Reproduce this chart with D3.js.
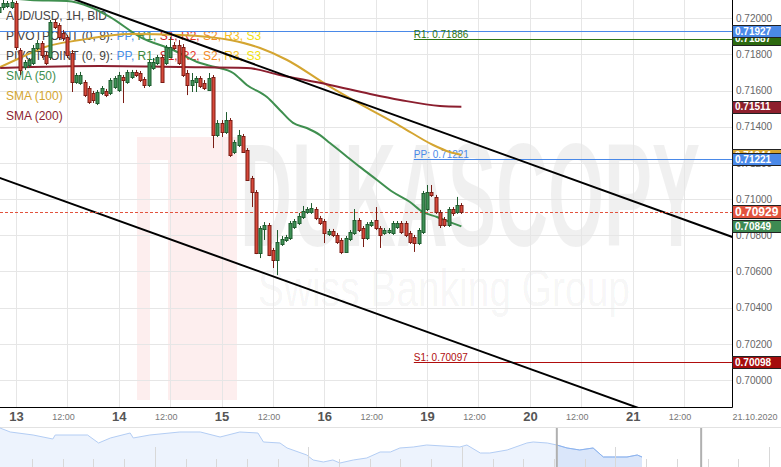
<!DOCTYPE html>
<html>
<head>
<meta charset="utf-8">
<script src="https://cdn.jsdelivr.net/npm/d3@7/dist/d3.min.js"></script>
<style>
html,body{margin:0;padding:0;background:#fff;}
svg{display:block;font-family:"Liberation Sans",Arial,Helvetica,sans-serif;}
</style>
</head>
<body>
<svg id="chart" width="781" height="467"></svg>
<script>
// ================= DATA =================
const symbolTitle = "AUD/USD, 1H, BID";
const firstHour = -4; // hourly bars, hour 0 = 13 Oct 00:00 (weekend compressed)
const opens = [0.72034,0.72062,0.72067,0.72062,0.72084,0.71824,0.71730,0.71741,0.71752,0.71835,
0.71863,0.71797,0.71786,0.71979,0.71962,0.71918,0.71896,0.71808,0.71647,0.71642,
0.71647,0.71614,0.71587,0.71531,0.71587,0.71598,0.71587,0.71620,0.71603,0.71675,
0.71647,0.71675,0.71703,0.71697,0.71664,0.71631,0.71725,0.71752,0.71786,0.71752,
0.71786,0.71852,0.71852,0.71841,0.71697,0.71631,0.71647,0.71669,0.71642,0.71603,
0.71675,0.71354,0.71421,0.71371,0.71437,0.71260,0.71299,0.71349,0.71271,0.71117,
0.71039,0.70702,0.70835,0.70857,0.70719,0.70663,0.70752,0.70774,0.70785,0.70846,
0.70868,0.70901,0.70929,0.70929,0.70945,0.70895,0.70879,0.70807,0.70824,0.70802,
0.70774,0.70708,0.70779,0.70813,0.70884,0.70840,0.70785,0.70857,0.70884,0.70840,
0.70813,0.70818,0.70813,0.70846,0.70868,0.70868,0.70813,0.70790,0.70757,0.70818,
0.70945,0.71039,0.71012,0.70929,0.70890,0.70857,0.70945,0.70929,0.70967];
const highs = [0.72073,0.72101,0.72095,0.72101,0.72095,0.71835,0.71769,0.71780,0.71852,0.71879,
0.71874,0.71813,0.71990,0.71996,0.71973,0.71935,0.71907,0.71824,0.71697,0.71703,
0.71658,0.71625,0.71598,0.71603,0.71625,0.71609,0.71669,0.71680,0.71703,0.71686,
0.71714,0.71714,0.71714,0.71708,0.71675,0.71769,0.71780,0.71797,0.71797,0.71852,
0.71896,0.71868,0.71879,0.71857,0.71714,0.71697,0.71680,0.71680,0.71658,0.71697,
0.71686,0.71437,0.71437,0.71481,0.71448,0.71327,0.71382,0.71360,0.71282,0.71128,
0.71050,0.70851,0.70873,0.70868,0.70730,0.70829,0.70796,0.70802,0.70879,0.70890,
0.70923,0.70962,0.70956,0.70978,0.70956,0.70907,0.70890,0.70835,0.70835,0.70813,
0.70785,0.70796,0.70829,0.70945,0.70895,0.70851,0.70873,0.70884,0.70956,0.70851,
0.70840,0.70840,0.70879,0.70879,0.70879,0.70879,0.70824,0.70802,0.70840,0.71045,
0.71078,0.71078,0.71023,0.70940,0.70901,0.70956,0.70956,0.71012,0.70978];
const lows = [0.72018,0.72045,0.72056,0.72051,0.71824,0.71686,0.71714,0.71725,0.71741,0.71824,
0.71780,0.71741,0.71769,0.71940,0.71879,0.71874,0.71780,0.71592,0.71637,0.71631,
0.71564,0.71526,0.71531,0.71520,0.71575,0.71564,0.71575,0.71609,0.71592,0.71531,
0.71637,0.71664,0.71675,0.71647,0.71614,0.71620,0.71714,0.71741,0.71642,0.71741,
0.71780,0.71824,0.71741,0.71675,0.71575,0.71592,0.71592,0.71614,0.71603,0.71598,
0.71282,0.71343,0.71343,0.71360,0.71233,0.71249,0.71288,0.71255,0.71100,0.70956,
0.70696,0.70674,0.70774,0.70685,0.70619,0.70580,0.70741,0.70763,0.70774,0.70835,
0.70857,0.70890,0.70918,0.70918,0.70884,0.70857,0.70757,0.70796,0.70790,0.70752,
0.70696,0.70702,0.70768,0.70802,0.70818,0.70735,0.70774,0.70846,0.70829,0.70730,
0.70802,0.70807,0.70802,0.70835,0.70807,0.70790,0.70752,0.70708,0.70746,0.70807,
0.70934,0.71012,0.70918,0.70840,0.70846,0.70846,0.70907,0.70918,0.70918];
const closes = [0.72062,0.72084,0.72084,0.72090,0.71841,0.71714,0.71758,0.71769,0.71835,0.71863,
0.71797,0.71752,0.71979,0.71951,0.71896,0.71891,0.71797,0.71647,0.71686,0.71686,
0.71575,0.71537,0.71548,0.71592,0.71614,0.71575,0.71658,0.71669,0.71686,0.71658,
0.71703,0.71703,0.71686,0.71658,0.71631,0.71758,0.71758,0.71786,0.71647,0.71841,
0.71841,0.71835,0.71752,0.71686,0.71631,0.71658,0.71669,0.71625,0.71614,0.71669,
0.71354,0.71421,0.71371,0.71437,0.71244,0.71316,0.71354,0.71260,0.71106,0.71039,
0.70702,0.70840,0.70857,0.70691,0.70663,0.70763,0.70779,0.70790,0.70868,0.70879,
0.70907,0.70934,0.70945,0.70951,0.70895,0.70868,0.70813,0.70824,0.70802,0.70763,
0.70708,0.70785,0.70818,0.70884,0.70829,0.70785,0.70862,0.70873,0.70840,0.70802,
0.70829,0.70829,0.70868,0.70868,0.70818,0.70802,0.70763,0.70757,0.70829,0.71034,
0.71039,0.71023,0.70929,0.70857,0.70857,0.70945,0.70923,0.70967,0.70929];

const tickHours  = [0,12,24,36,48,60,72,84,96,108,120,132,144,156];
const tickLabels = ["13","12:00","14","12:00","15","12:00","16","12:00","19","12:00","20","12:00","21","12:00"];
const dateLabel = "21.10.2020";
const priceTicks = [0.700,0.702,0.704,0.706,0.708,0.710,0.712,0.714,0.716,0.718,0.720];

const sma50Hours  = [-3.7,3.3,11.9,17.3,21.9,29,36.7,43,46.5,50.7,53.9,58.6,61.6,64.7,67.9,71,73.3,76.8,80.3,84.3,88,92,95,98.3,101.3,104];
const sma50Values = [0.72117,0.72101,0.72095,0.72062,0.72007,0.71896,0.71824,0.71752,0.71730,0.71697,0.71631,0.71564,0.71493,0.71421,0.71393,0.71354,0.71310,0.71244,0.71178,0.71106,0.71039,0.70984,0.70929,0.70901,0.70873,0.70849];
const sma100Hours  = [-3.7,0.9,6.8,14.9,26.6,38.3,50,57,63.3,72.6,80.3,89.7,97.4,101.3,104];
const sma100Values = [0.71730,0.71780,0.71841,0.71879,0.71913,0.71907,0.71879,0.71835,0.71769,0.71631,0.71526,0.71404,0.71299,0.71260,0.71244];
const sma200Hours  = [-3.7,19.6,38.3,53.9,61.6,73.3,82.7,89.7,99,104];
const sma200Values = [0.71725,0.71736,0.71730,0.71725,0.71686,0.71631,0.71581,0.71548,0.71515,0.71511];

const pivotNames  = ["R1","PP","S1"];
const pivotValues = [0.71886,0.71221,0.70097];
const pivotStartHour = 92.9;
const wideLevelValue = 0.71927;

const trendUpperHours = [0,172], trendUpperValues = [0.72221,0.70750];
const trendLowerHours = [-4,172], trendLowerValues = [0.71119,0.69618];

const legendPivotItems = ["PP","R1","S1","R2","S2","R3","S3"];
const legendPivotTitles = ["PIVOTPOINT (0, 8): ","PIVOTPOINT (0, 9): "];
const smaNames = ["SMA (50)","SMA (100)","SMA (200)"];

const axisLabelValues = [0.71887,0.71927,0.71511,0.71244,0.71221,0.70929,0.70849,0.70098];

const navHours  = [-710,-697,-668,-643,-640,-599,-585,-570,-545,-541,-520,-482,-456,-431,-406,-383,-376,-355,-346,-321,-313,-300,-288,-279,-262,-245,-228,-215,-203,-186,-169,-127,-118,-101,-89,-67,-42,-34,-16,-4,9,25,42,55,67,85,98,104];
const navValues = [0.71558,0.71388,0.71260,0.71090,0.71260,0.71260,0.70920,0.71133,0.71345,0.71133,0.71260,0.71388,0.71388,0.71175,0.71388,0.71345,0.70963,0.70920,0.70708,0.70410,0.70198,0.70113,0.70198,0.70070,0.70198,0.70283,0.70538,0.70538,0.70708,0.70750,0.70835,0.70750,0.70835,0.70495,0.70495,0.70623,0.70920,0.70963,0.70920,0.70835,0.70708,0.70623,0.70708,0.70325,0.70325,0.70325,0.70410,0.70325];
const navWindow = [-4,179];

// ================= STYLE =================
const C = {
  grid:"#e6e6e6", text:"#444", axisText:"#666",
  up:"#3f9156", upLine:"#1f5c2f", down:"#d7483a", downLine:"#7a1c14",
  sma50:"#3f8f4f", sma100:"#d4a531", sma200:"#8b1e2e",
  blue:"#4a89e8", r1:"#2d7410", s1:"#b00d0d", last:"#e2533e"
};
const pivotColors = {R1:C.r1, PP:C.blue, S1:C.s1};
const legendPivotColors = ["#4a8fe7","#3c8a3c","#cc1a1a","#e5372a","#f28c28","#f6c026","#f0e010"];
const smaColors = [C.sma50, C.sma100, C.sma200];
const axisLabelColors = ["#2d6a10","#4a89e8","#8e1f2d","#d4a531","#4a89e8","#e2533e","#3e8a52","#a50d0d"];

const W=781, H=467, PW=732, PH=407;
const svg = d3.select("#chart");

const x = d3.scaleLinear().domain([-3.74,167.2]).range([0,PW]);
const y = d3.scaleLinear().domain([0.72,0.70]).range([18.2,380.0]);

svg.append("defs").append("clipPath").attr("id","plotClip")
  .append("rect").attr("x",0).attr("y",0).attr("width",PW).attr("height",PH);

// ---- watermark ----
const wm = svg.append("g").attr("clip-path","url(#plotClip)");
wm.append("rect").attr("x",137).attr("y",137).attr("width",100).attr("height",263).attr("fill","#fdeeee");
wm.append("rect").attr("x",150).attr("y",160).attr("width",18).attr("height",240).attr("fill","#fff");
wm.append("text").attr("x",240).attr("y",246).attr("font-size",146).attr("font-weight","bold")
  .attr("textLength",460).attr("lengthAdjust","spacingAndGlyphs").attr("fill","#000").attr("fill-opacity",0.06)
  .text("DUKASCOPY");
wm.append("text").attr("x",258).attr("y",306).attr("font-size",52)
  .attr("textLength",372).attr("lengthAdjust","spacingAndGlyphs").attr("fill","#000").attr("fill-opacity",0.05)
  .text("Swiss Banking Group");

// ---- grid ----
const grid = svg.append("g");
grid.selectAll("line.h").data(priceTicks).join("line")
  .attr("x1",0).attr("x2",PW).attr("y1",d=>Math.round(y(d))+0.5).attr("y2",d=>Math.round(y(d))+0.5)
  .attr("stroke",C.grid);
grid.selectAll("line.v").data(tickHours).join("line")
  .attr("x1",d=>Math.round(x(d))+0.5).attr("x2",d=>Math.round(x(d))+0.5).attr("y1",0).attr("y2",PH)
  .attr("stroke",C.grid);

// ---- legend ----
const lg = svg.append("g").attr("font-size",12);
lg.append("text").attr("x",6).attr("y",20).attr("fill",C.text).attr("textLength",101).attr("lengthAdjust","spacing").text(symbolTitle);
legendPivotTitles.forEach((t,k)=>{
  const tx = lg.append("text").attr("x",6).attr("y",40+20*k).attr("fill",C.text);
  tx.append("tspan").text(t);
  legendPivotItems.forEach((it,i)=>{
    tx.append("tspan").attr("fill",legendPivotColors[i]).text(it + (i<legendPivotItems.length-1?", ":""));
  });
});
smaNames.forEach((s,i)=>{
  lg.append("text").attr("x",6).attr("y",80+20*i).attr("fill",smaColors[i]).text(s);
});

// ---- plot content ----
const plot = svg.append("g").attr("clip-path","url(#plotClip)");

plot.append("line").attr("x1",0).attr("x2",PW)
  .attr("y1",Math.round(y(wideLevelValue))+0.5).attr("y2",Math.round(y(wideLevelValue))+0.5)
  .attr("stroke",C.blue).attr("stroke-width",1);

pivotNames.forEach((n,i)=>{
  const yy = Math.round(y(pivotValues[i]))+0.5;
  plot.append("line").attr("x1",x(pivotStartHour)).attr("x2",PW).attr("y1",yy).attr("y2",yy)
    .attr("stroke",pivotColors[n]).attr("stroke-width",1);
  plot.append("text").attr("x",x(pivotStartHour)).attr("y",yy-2).attr("font-size",10)
    .attr("fill",pivotColors[n]).text(n+": "+pivotValues[i].toFixed(5));
});

const smaLine = d3.line().x(d=>x(d[0])).y(d=>y(d[1])).curve(d3.curveMonotoneX);
[[sma50Hours,sma50Values],[sma100Hours,sma100Values],[sma200Hours,sma200Values]].forEach((s,i)=>{
  plot.append("path").attr("d",smaLine(s[0].map((h,j)=>[h,s[1][j]])))
    .attr("fill","none").attr("stroke",smaColors[i]).attr("stroke-width",2);
});

const tl = d3.line().x(d=>x(d[0])).y(d=>y(d[1]));
[[trendUpperHours,trendUpperValues],[trendLowerHours,trendLowerValues]].forEach(t=>{
  plot.append("path").attr("d",tl(t[0].map((h,j)=>[h,t[1][j]])))
    .attr("fill","none").attr("stroke","#000").attr("stroke-width",2);
});

const lastClose = closes[closes.length-1];
plot.append("line").attr("x1",0).attr("x2",PW)
  .attr("y1",Math.round(y(lastClose))+0.5).attr("y2",Math.round(y(lastClose))+0.5)
  .attr("stroke",C.last).attr("stroke-dasharray","3,2");

const candles = opens.map((o,i)=>({h:firstHour+i,o,hi:highs[i],lo:lows[i],c:closes[i]}));
const cg = plot.append("g");
const cs = cg.selectAll("g").data(candles).join("g");
cs.append("line")
  .attr("x1",d=>Math.round(x(d.h))+0.5).attr("x2",d=>Math.round(x(d.h))+0.5)
  .attr("y1",d=>y(d.hi)).attr("y2",d=>y(d.lo))
  .attr("stroke",d=>d.c>=d.o?C.upLine:C.downLine).attr("stroke-width",1);
cs.append("rect")
  .attr("x",d=>Math.round(x(d.h))-1).attr("width",3)
  .attr("y",d=>Math.round(y(Math.max(d.o,d.c)))+0.5)
  .attr("height",d=>Math.max(1,Math.round(Math.abs(y(d.o)-y(d.c)))))
  .attr("fill",d=>d.c>=d.o?C.up:C.down)
  .attr("stroke",d=>d.c>=d.o?C.upLine:C.downLine).attr("stroke-width",1);

// ---- axes ----
svg.append("line").attr("x1",PW+0.5).attr("x2",PW+0.5).attr("y1",0).attr("y2",PH+0.5).attr("stroke","#000");
svg.append("line").attr("x1",0).attr("x2",PW+0.5).attr("y1",PH+0.5).attr("y2",PH+0.5).attr("stroke","#000");

const yAxis = svg.append("g").attr("transform",`translate(${PW},0)`)
  .call(d3.axisRight(y).tickValues(priceTicks).tickSize(0).tickPadding(4).tickFormat(d3.format(".5f")));
yAxis.select(".domain").remove();
yAxis.selectAll("text").attr("font-size",10).attr("fill",C.axisText).attr("font-family",null);

const xAxis = svg.append("g").attr("transform",`translate(0,${PH})`)
  .call(d3.axisBottom(x).tickValues(tickHours).tickSize(0).tickPadding(5).tickFormat((d,i)=>tickLabels[i]));
xAxis.select(".domain").remove();
xAxis.selectAll("text").attr("font-family",null)
  .each(function(d,i){
    const isDay = tickLabels[i] !== "12:00";
    d3.select(this).attr("font-size",isDay?13:9).attr("font-weight",isDay?"bold":"normal")
      .attr("fill",isDay?"#555":"#777").attr("dx",isDay?0:-4.5).attr("y",isDay?5:7);
  });
svg.append("text").attr("x",755).attr("y",420).attr("text-anchor","middle").attr("font-size",9).attr("fill","#777").text(dateLabel);

const al = svg.append("g");
axisLabelValues.forEach((v,i)=>{
  const big = v===lastClose;
  const hgt = big?13:12, yy = y(v);
  al.append("rect").attr("x",PW+0.5).attr("y",Math.round(yy-hgt/2)+0.5).attr("width",W-PW).attr("height",hgt)
    .attr("fill",axisLabelColors[i]).attr("stroke","#222").attr("stroke-width",1);
  al.append("text").attr("x",PW+3).attr("y",yy+(big?4.5:3.6)).attr("font-size",big?12:10)
    .attr("font-weight","bold").attr("fill","#fff").text(v.toFixed(5));
});

// ---- navigator ----
const nTop=427, nBot=467;
const navX = d3.scaleLinear().domain([-710,104]).range([0,642]);
const navY = d3.scaleLinear().domain([0.7160,0.6990]).range([nTop,nBot]);
svg.append("line").attr("x1",0).attr("x2",W).attr("y1",nTop+0.5).attr("y2",nTop+0.5).attr("stroke","#e2e2e2");
const navData = navHours.map((h,i)=>[h,navValues[i]]);
const area = d3.area().x(d=>navX(d[0])).y0(nBot).y1(d=>navY(d[1]));
const nline = d3.line().x(d=>navX(d[0])).y(d=>navY(d[1]));
svg.append("defs").append("clipPath").attr("id","navSel").append("rect")
  .attr("x",navX(navWindow[0])).attr("y",nTop).attr("width",navX(navWindow[1])-navX(navWindow[0])).attr("height",nBot-nTop);
svg.append("path").attr("d",area(navData)).attr("fill","#edf3fd");
svg.append("path").attr("d",area(navData)).attr("fill","#dae6fa").attr("clip-path","url(#navSel)");
svg.append("path").attr("d",nline(navData)).attr("fill","none").attr("stroke","#b3cdf4");
svg.append("path").attr("d",nline(navData)).attr("fill","none").attr("stroke","#8cb3ee").attr("clip-path","url(#navSel)");
const navGridHours = d3.range(0,25).map(k=>-669.4+k*38.93);
svg.append("g").selectAll("line").data(navGridHours).join("line")
  .attr("x1",d=>Math.round(navX(d))+0.5).attr("x2",d=>Math.round(navX(d))+0.5)
  .attr("y1",(d,i)=>i%5===4?447:459).attr("y2",nBot).attr("stroke","#d8d8d8");
navWindow.forEach(h=>{
  svg.append("line").attr("x1",navX(h)).attr("x2",navX(h)).attr("y1",nTop+1).attr("y2",nBot)
    .attr("stroke","#b0b0b0").attr("stroke-width",2);
});
</script>
</body>
</html>
